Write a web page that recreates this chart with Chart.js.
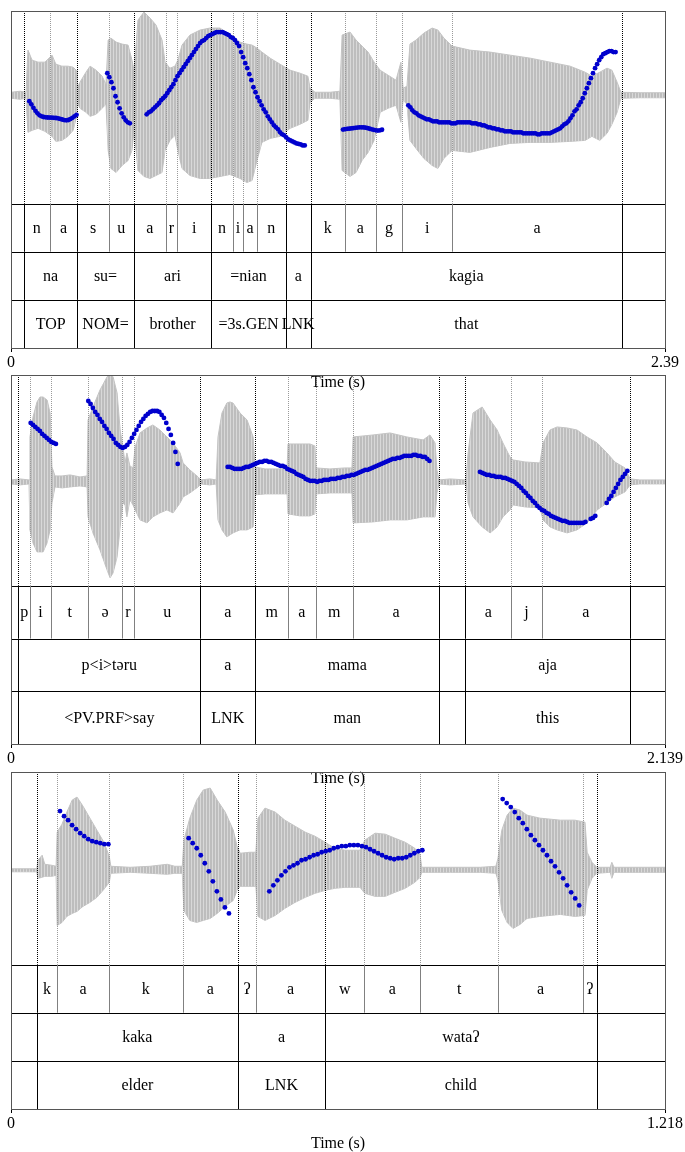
<!DOCTYPE html>
<html>
<head>
<meta charset="utf-8">
<script src="https://cdn.jsdelivr.net/npm/chart.js@4.4.1/dist/chart.umd.min.js"></script>
<style>
  html, body { margin: 0; padding: 0; background: #fff; overflow: hidden; }
  #page { position: relative; width: 685px; height: 1152px; overflow: hidden; background: #fff; }
  #page canvas { position: absolute; left: 0; }
</style>
</head>
<body>
<div id="page">
  <canvas id="panel1" width="685" height="392" style="top:0px"></canvas>
  <canvas id="panel2" width="685" height="424" style="top:364px"></canvas>
  <canvas id="panel3" width="685" height="392" style="top:761px"></canvas>
</div>
<script>
// ---------- shared ----------
const pitchStep = 0.0075; // s between F0 frames

// ---------- utterance 1: na su=ari=nian a kagia ----------
const duration1 = 2.39;
const timeTicks1 = [0, 2.39];
const tickLabels1 = ['0', '2.39'];
const ampRange1 = [-1.08, 0.84];
const hzRange1 = [100, 292];
const wave1Time = [0, 0.033, 0.055, 0.062, 0.077, 0.099, 0.124, 0.150, 0.164, 0.186,
  0.208, 0.227, 0.238, 0.241, 0.252, 0.274, 0.289, 0.311, 0.333, 0.347,
  0.355, 0.365, 0.384, 0.406, 0.428, 0.442, 0.450, 0.464, 0.486, 0.508,
  0.530, 0.552, 0.563, 0.581, 0.599, 0.610, 0.625, 0.654, 0.691, 0.727,
  0.764, 0.800, 0.837, 0.862, 0.881, 0.899, 0.917, 0.947, 0.983, 1.020,
  1.056, 1.085, 1.093, 1.111, 1.166, 1.202, 1.210, 1.239, 1.261, 1.283,
  1.305, 1.327, 1.349, 1.378, 1.407, 1.425, 1.433, 1.447, 1.458, 1.480,
  1.509, 1.539, 1.560, 1.582, 1.612, 1.677, 1.751, 1.824, 1.897, 1.970,
  2.043, 2.098, 2.123, 2.152, 2.178, 2.196, 2.215, 2.229, 2.299, 2.390];
const wave1High = [0.03, 0.04, 0.03, 0.45, 0.35, 0.33, 0.33, 0.40, 0.31, 0.29,
  0.29, 0.28, 0.25, 0.07, 0.13, 0.23, 0.29, 0.25, 0.19, 0.11,
  0.55, 0.57, 0.53, 0.51, 0.50, 0.35, 0.25, 0.75, 0.83, 0.77,
  0.70, 0.55, 0.33, 0.27, 0.29, 0.35, 0.50, 0.60, 0.65, 0.67,
  0.67, 0.60, 0.53, 0.51, 0.50, 0.47, 0.43, 0.37, 0.31, 0.25,
  0.22, 0.19, 0.07, 0.03, 0.03, 0.04, 0.60, 0.63, 0.55, 0.49,
  0.43, 0.33, 0.25, 0.20, 0.15, 0.33, 0.07, 0.09, 0.51, 0.55,
  0.62, 0.67, 0.65, 0.57, 0.49, 0.45, 0.43, 0.40, 0.37, 0.33,
  0.29, 0.23, 0.19, 0.23, 0.27, 0.25, 0.13, 0.03, 0.025, 0.025];
const wave1Low = [-0.03, -0.04, -0.03, -0.37, -0.35, -0.33, -0.36, -0.41, -0.46, -0.45,
  -0.41, -0.35, -0.23, -0.07, -0.13, -0.17, -0.21, -0.19, -0.13, -0.09,
  -0.55, -0.73, -0.77, -0.70, -0.65, -0.55, -0.35, -0.75, -0.81, -0.83,
  -0.80, -0.77, -0.55, -0.45, -0.40, -0.55, -0.73, -0.80, -0.83, -0.83,
  -0.81, -0.79, -0.83, -0.87, -0.85, -0.65, -0.47, -0.43, -0.41, -0.33,
  -0.29, -0.25, -0.07, -0.03, -0.03, -0.04, -0.75, -0.81, -0.77, -0.65,
  -0.57, -0.45, -0.17, -0.13, -0.10, -0.27, -0.05, -0.09, -0.45, -0.53,
  -0.63, -0.70, -0.73, -0.63, -0.55, -0.57, -0.52, -0.48, -0.47, -0.47,
  -0.46, -0.45, -0.41, -0.45, -0.38, -0.29, -0.17, -0.03, -0.025, -0.025];
const pitch1Starts = [0.0669, 0.3519, 0.4959, 1.2133, 1.4519];
const pitch1Hz = [
  [202, 199, 195.5, 192.5, 190, 188, 187, 186.3, 186, 185.8, 185.7, 185.6, 185.5, 185.3, 185, 184.4, 183.8, 183.2, 183, 183.3, 184.2, 185.5, 187, 188.5],
  [230, 226, 221, 215, 207, 201, 195, 190, 186, 183, 181, 180],
  [189, 191, 192, 194, 196, 198, 200, 203, 205, 207, 210, 213, 216, 219, 223, 227, 230, 233, 236, 239,
   242, 245, 248, 251, 254, 257, 260, 262, 263, 265, 267, 268, 269, 270, 271, 271, 271, 271, 270, 269,
   268, 266, 265, 263, 260, 257, 251, 246, 240, 235, 229, 223, 216, 211, 206, 202, 198, 194, 191, 187,
   184, 181, 178, 176, 174, 171, 169, 168, 166, 164, 163, 162, 161, 160, 159.5, 159, 158, 158],
  [173.8, 174.2, 174.5, 174.7, 174.9, 175.2, 175.5, 175.8, 176, 176, 175.9, 175.7, 175.2, 174.6, 174, 173.5, 173, 172.8, 173, 173.6],
  [198, 196, 193, 191, 190, 188, 187, 186, 185, 184, 184, 183, 182, 182, 182, 181, 181, 181, 181, 181,
   181, 180, 180, 180, 181, 181, 181, 181, 181, 181, 181, 180, 180, 180, 179, 179, 178, 178, 177, 176,
   176, 175, 175, 174, 174, 173, 173, 172, 172, 172, 172, 171, 171, 171, 171, 171, 170, 170, 170, 170,
   170, 170, 170, 169, 169, 170, 170, 170, 170, 170, 171, 172, 173, 174, 175, 177, 179, 180, 182, 185,
   188, 192, 194, 198, 201, 205, 210, 215, 220, 225, 230, 235, 239, 243, 246, 249, 250, 251, 252, 252,
   251, 251]
];
const phoneBounds1 = [0, 0.0475, 0.1414, 0.2423, 0.3570, 0.4484, 0.5653, 0.6077, 0.7320, 0.8102, 0.8489, 0.8990, 1.0039, 1.0952, 1.2206, 1.3328, 1.4300, 1.6127, 2.2328, 2.39];
const phones1 = ['', 'n', 'a', 's', 'u', 'a', 'r', 'i', 'n', 'i', 'a', 'n', '', 'k', 'a', 'g', 'i', 'a', ''];
const wordBounds1 = [0, 0.0475, 0.2423, 0.4484, 0.7320, 1.0039, 1.0952, 2.2328, 2.39];
const words1 = ['', 'na', 'su=', 'ari', '=nian', 'a', 'kagia', ''];
const glosses1 = ['', 'TOP', 'NOM=', 'brother', '=3s.GEN', 'LNK', 'that', ''];

// ---------- utterance 2: p<i>təru a mama aja ----------
const duration2 = 2.139;
const timeTicks2 = [0, 2.139];
const tickLabels2 = ['0', '2.139'];
const ampRange2 = [-1.04, 1.07];
const hzRange2 = [100, 311];
const wave2Time = [0, 0.029, 0.059, 0.062, 0.072, 0.085, 0.095, 0.105, 0.118, 0.128,
  0.134, 0.144, 0.167, 0.193, 0.226, 0.249, 0.252, 0.268, 0.291, 0.314,
  0.324, 0.334, 0.347, 0.357, 0.366, 0.373, 0.379, 0.389, 0.399, 0.406,
  0.422, 0.445, 0.464, 0.487, 0.510, 0.530, 0.553, 0.563, 0.585, 0.612,
  0.621, 0.651, 0.671, 0.677, 0.690, 0.706, 0.716, 0.726, 0.749, 0.772,
  0.792, 0.798, 0.831, 0.880, 0.903, 0.906, 0.945, 0.978, 0.994, 0.998,
  1.043, 1.092, 1.115, 1.119, 1.184, 1.240, 1.295, 1.348, 1.370, 1.387,
  1.393, 1.400, 1.436, 1.488, 1.495, 1.511, 1.541, 1.567, 1.590, 1.609,
  1.632, 1.642, 1.681, 1.730, 1.740, 1.763, 1.786, 1.819, 1.851, 1.884,
  1.917, 1.949, 1.975, 2.008, 2.025, 2.057, 2.139];
const wave2High = [0.02, 0.03, 0.02, 0.45, 0.65, 0.80, 0.85, 0.85, 0.82, 0.69,
  0.15, 0.06, 0.06, 0.07, 0.05, 0.06, 0.62, 0.75, 0.92, 1.05,
  1.09, 1.05, 0.89, 0.52, 0.35, 0.19, 0.29, 0.16, 0.14, 0.35,
  0.49, 0.54, 0.57, 0.52, 0.45, 0.39, 0.29, 0.19, 0.12, 0.05,
  0.02, 0.03, 0.02, 0.45, 0.69, 0.79, 0.80, 0.79, 0.69, 0.62,
  0.45, 0.15, 0.13, 0.13, 0.14, 0.38, 0.38, 0.38, 0.36, 0.14,
  0.13, 0.14, 0.14, 0.45, 0.47, 0.49, 0.45, 0.42, 0.47, 0.39,
  0.12, 0.02, 0.03, 0.02, 0.29, 0.69, 0.75, 0.62, 0.52, 0.39,
  0.25, 0.22, 0.20, 0.19, 0.39, 0.52, 0.55, 0.54, 0.52, 0.45,
  0.39, 0.29, 0.20, 0.14, 0.03, 0.02, 0.02];
const wave2Low = [-0.02, -0.03, -0.02, -0.48, -0.61, -0.70, -0.70, -0.70, -0.61, -0.48,
  -0.21, -0.05, -0.06, -0.05, -0.04, -0.05, -0.35, -0.51, -0.68, -0.88,
  -0.96, -0.91, -0.75, -0.45, -0.21, -0.23, -0.35, -0.18, -0.23, -0.28,
  -0.38, -0.41, -0.35, -0.31, -0.28, -0.31, -0.21, -0.15, -0.11, -0.05,
  -0.02, -0.03, -0.02, -0.38, -0.48, -0.55, -0.53, -0.51, -0.48, -0.48,
  -0.45, -0.13, -0.12, -0.12, -0.12, -0.32, -0.34, -0.34, -0.32, -0.12,
  -0.11, -0.11, -0.11, -0.41, -0.40, -0.38, -0.38, -0.35, -0.35, -0.35,
  -0.11, -0.02, -0.03, -0.02, -0.21, -0.35, -0.45, -0.51, -0.45, -0.35,
  -0.28, -0.23, -0.25, -0.26, -0.38, -0.45, -0.48, -0.51, -0.48, -0.41,
  -0.28, -0.21, -0.15, -0.10, -0.03, -0.02, -0.02];
const pitch2Starts = [0.0644, 0.2528, 0.7087, 1.5339, 1.8960, 1.9483];
const pitch2Hz = [
  [263, 261, 259, 257, 255, 252, 250, 248, 246, 244, 243, 242],
  [285, 282, 278, 274, 271, 267, 264, 260, 257, 253, 250, 247, 243, 241, 239, 238, 239, 241, 244, 248,
   252, 256, 260, 264, 267, 270, 272, 274, 275, 275, 275, 274, 271, 268, 263, 257, 251, 243, 234, 222],
  [219, 219, 218, 217, 217, 217, 217, 218, 219, 219, 220, 221, 222, 223, 224, 224, 225, 225, 224, 224,
   223, 222, 221, 220, 220, 219, 217, 216, 215, 214, 212, 211, 210, 209, 207, 206, 205, 205, 205, 204,
   205, 205, 206, 206, 206, 207, 207, 207, 208, 208, 209, 209, 210, 210, 211, 211, 212, 213, 214, 215,
   216, 216, 217, 218, 219, 220, 221, 222, 223, 224, 225, 226, 227, 227, 228, 228, 229, 230, 230, 230,
   230, 231, 231, 230, 230, 229, 229, 227, 225],
  [214, 213, 212, 211, 211, 210, 210, 209, 209, 209, 208, 208, 207, 206, 205, 204, 202, 200, 198, 195,
   193, 190, 188, 185, 183, 180, 178, 176, 175, 173, 172, 170, 169, 168, 167, 166, 165, 165, 164, 163,
   163, 163, 163, 163, 163, 163, 164],
  [167, 168, 170],
  [183, 187, 190, 194, 198, 202, 206, 209, 212, 215]
];
const phoneBounds2 = [0, 0.0239, 0.0621, 0.1308, 0.2528, 0.3621, 0.4023, 0.6191, 0.7990, 0.9060, 0.9966, 1.1176, 1.4008, 1.4858, 1.6363, 1.7357, 2.0245, 2.139];
const phones2 = ['', 'p', 'i', 't', 'ə', 'r', 'u', 'a', 'm', 'a', 'm', 'a', '', 'a', 'j', 'a', ''];
const wordBounds2 = [0, 0.0239, 0.6191, 0.7990, 1.4008, 1.4858, 2.0245, 2.139];
const words2 = ['', 'p<i>təru', 'a', 'mama', '', 'aja', ''];
const glosses2 = ['', '<PV.PRF>say', 'LNK', 'man', '', 'this', ''];

// ---------- utterance 3: kaka a wataʔ ----------
const duration3 = 1.218;
const timeTicks3 = [0, 1.218];
const tickLabels3 = ['0', '1.218'];
const ampRange3 = [-0.94, 0.98];
const hzRange3 = [100, 292];
const wave3Time = [0, 0.048, 0.050, 0.058, 0.063, 0.076, 0.084, 0.086, 0.095, 0.104,
  0.114, 0.123, 0.134, 0.147, 0.160, 0.173, 0.183, 0.186, 0.222, 0.259,
  0.291, 0.305, 0.319, 0.322, 0.333, 0.346, 0.358, 0.371, 0.384, 0.399,
  0.414, 0.421, 0.427, 0.445, 0.456, 0.460, 0.473, 0.492, 0.510, 0.529,
  0.548, 0.566, 0.585, 0.603, 0.622, 0.650, 0.659, 0.678, 0.697, 0.715,
  0.734, 0.752, 0.762, 0.765, 0.818, 0.874, 0.903, 0.907, 0.914, 0.924,
  0.935, 0.948, 0.961, 0.985, 1.023, 1.050, 1.069, 1.073, 1.082, 1.091,
  1.116, 1.119, 1.123, 1.218];
const wave3High = [0.015, 0.015, 0.10, 0.15, 0.06, 0.05, 0.04, 0.38, 0.46, 0.58,
  0.70, 0.73, 0.64, 0.52, 0.40, 0.28, 0.14, 0.04, 0.03, 0.04,
  0.06, 0.04, 0.04, 0.30, 0.52, 0.70, 0.80, 0.82, 0.70, 0.58,
  0.40, 0.24, 0.17, 0.18, 0.18, 0.52, 0.62, 0.58, 0.50, 0.44,
  0.38, 0.34, 0.28, 0.22, 0.20, 0.20, 0.30, 0.37, 0.36, 0.32,
  0.28, 0.22, 0.15, 0.03, 0.03, 0.03, 0.04, 0.12, 0.40, 0.55,
  0.62, 0.60, 0.55, 0.52, 0.50, 0.50, 0.48, 0.18, 0.08, 0.03,
  0.03, 0.08, 0.03, 0.03];
const wave3Low = [-0.015, -0.015, -0.08, -0.07, -0.06, -0.06, -0.05, -0.55, -0.52, -0.46,
  -0.43, -0.41, -0.36, -0.32, -0.27, -0.19, -0.12, -0.03, -0.02, -0.03,
  -0.04, -0.03, -0.03, -0.40, -0.50, -0.52, -0.50, -0.48, -0.43, -0.36,
  -0.30, -0.20, -0.16, -0.16, -0.16, -0.46, -0.50, -0.45, -0.38, -0.32,
  -0.27, -0.23, -0.20, -0.18, -0.17, -0.17, -0.23, -0.26, -0.26, -0.22,
  -0.18, -0.12, -0.07, -0.02, -0.02, -0.02, -0.03, -0.10, -0.40, -0.52,
  -0.58, -0.54, -0.48, -0.46, -0.44, -0.46, -0.45, -0.20, -0.08, -0.03,
  -0.02, -0.08, -0.02, -0.02];
const pitch3Starts = [0.0913, 0.3309, 0.4811, 0.9157];
const pitch3Hz = [
  [253, 248, 244, 239, 235, 231, 228, 225, 223, 222, 221, 220, 220],
  [226, 221, 216, 209, 201, 193, 183, 173, 165, 157, 151],
  [173, 179, 184, 189, 193, 197, 199, 201, 204, 205, 207, 209, 210, 212, 213, 214, 216, 217, 218, 218,
   219, 219, 219, 218, 217, 215, 213, 211, 209, 207, 206, 205, 206, 206, 207, 209, 211, 213, 214],
  [265, 261, 257, 252, 246, 241, 235, 229, 224, 219, 214, 209, 203, 198, 192, 186, 179, 172, 166, 159]
];
const phoneBounds3 = [0, 0.0479, 0.0862, 0.1820, 0.3198, 0.4228, 0.4568, 0.5848, 0.6580, 0.7623, 0.9075, 1.0647, 1.0908, 1.218];
const phones3 = ['', 'k', 'a', 'k', 'a', 'ʔ', 'a', 'w', 'a', 't', 'a', 'ʔ', ''];
const wordBounds3 = [0, 0.0479, 0.4228, 0.5848, 1.0908, 1.218];
const words3 = ['', 'kaka', 'a', 'wataʔ', ''];
const glosses3 = ['', 'elder', 'LNK', 'child', ''];

// ---------- drawing ----------
const SERIF = "'Liberation Serif', 'Times New Roman', serif";
Chart.defaults.font.family = SERIF;
Chart.defaults.font.size = 16;
Chart.defaults.color = '#000';

const crisp = v => Math.round(v) + 0.5;

// Fine vertical striping so the filled sound envelope reads like sample lines.
function sampleLinePattern() {
  const c = document.createElement('canvas');
  c.width = 3; c.height = 1;
  const g = c.getContext('2d');
  g.fillStyle = '#bdbdbd'; g.fillRect(0, 0, 3, 1);
  g.fillStyle = '#d8d8d8'; g.fillRect(2, 0, 1, 1);
  return g.createPattern(c, 'repeat');
}
const soundFill = sampleLinePattern();

// Dotted boundary lines over the sound, then interval tiers and the frame.
const tierPlugin = {
  id: 'praatTiers',
  afterDatasetDraw(chart, args, opts) {
    if (args.index !== 1) return;            // right after the waveform, before F0
    const {ctx} = chart;
    const xs = chart.scales.x, amp = chart.scales.amp;
    ctx.save();
    ctx.lineWidth = 1;
    ctx.setLineDash([1, 1]);
    opts.tiers[0].bounds.slice(1, -1).forEach(t => {
      const px = crisp(xs.getPixelForValue(t));
      ctx.strokeStyle = opts.wordBounds.includes(t) ? '#000' : '#9a9a9a';
      ctx.beginPath();
      ctx.moveTo(px, amp.top);
      ctx.lineTo(px, amp.bottom);
      ctx.stroke();
    });
    ctx.restore();
  },
  afterDraw(chart, args, opts) {
    const {ctx, chartArea: a} = chart;
    const xs = chart.scales.x, tier = chart.scales.tier;
    ctx.save();
    ctx.lineWidth = 1;
    opts.tiers.forEach((tr, r) => {
      const y0 = tier.getPixelForValue(r), y1 = tier.getPixelForValue(r + 1);
      ctx.strokeStyle = '#000';
      ctx.beginPath();
      ctx.moveTo(a.left, crisp(y0));
      ctx.lineTo(a.right, crisp(y0));
      ctx.stroke();
      tr.bounds.slice(1, -1).forEach(t => {
        const px = crisp(xs.getPixelForValue(t));
        ctx.strokeStyle = opts.wordBounds.includes(t) ? '#000' : '#808080';
        ctx.beginPath();
        ctx.moveTo(px, y0);
        ctx.lineTo(px, y1);
        ctx.stroke();
      });
      ctx.fillStyle = '#000';
      ctx.font = '16px ' + SERIF;
      ctx.textAlign = 'center';
      ctx.textBaseline = 'middle';
      tr.labels.forEach((lab, i) => {
        if (!lab) return;
        const cx = (xs.getPixelForValue(tr.bounds[i]) + xs.getPixelForValue(tr.bounds[i + 1])) / 2;
        ctx.fillText(lab, cx, (y0 + y1) / 2 + 1);
      });
    });
    ctx.strokeStyle = '#555';
    ctx.strokeRect(crisp(a.left), crisp(a.top), Math.round(a.right - a.left), Math.round(a.bottom - a.top));
    ctx.restore();
  }
};

function buildPanel(id, p) {
  const pts = (xs, ys) => xs.map((x, i) => ({x, y: ys[i]}));
  const f0 = [];
  p.pitchStarts.forEach((t0, s) => p.pitchHz[s].forEach((hz, i) => f0.push({x: t0 + i * pitchStep, y: hz})));
  const tiers = [
    {bounds: p.phoneBounds, labels: p.phones},
    {bounds: p.wordBounds, labels: p.words},
    {bounds: p.wordBounds, labels: p.glosses}
  ];
  return new Chart(document.getElementById(id), {
    type: 'line',
    data: {
      datasets: [
        { label: 'F0', data: f0, yAxisID: 'hz', order: 0, showLine: false,
          pointRadius: 2.4, pointHoverRadius: 0, pointBorderWidth: 0,
          pointBackgroundColor: '#0000cd', backgroundColor: '#0000cd' },
        { label: 'sound max', data: pts(p.waveTime, p.waveHigh), yAxisID: 'amp', order: 1,
          borderColor: '#c4c4c4', borderWidth: 1, backgroundColor: soundFill,
          fill: '+1', pointRadius: 0, tension: 0 },
        { label: 'sound min', data: pts(p.waveTime, p.waveLow), yAxisID: 'amp', order: 1,
          borderColor: '#c4c4c4', borderWidth: 1, fill: false, pointRadius: 0, tension: 0 }
      ]
    },
    options: {
      responsive: false,
      animation: false,
      events: [],
      layout: { padding: { left: 11, right: 20, top: 11, bottom: 0 } },
      plugins: {
        legend: { display: false },
        tooltip: { enabled: false },
        praatTiers: { tiers, wordBounds: p.wordBounds }
      },
      scales: {
        x: {
          type: 'linear', position: 'bottom', bounds: 'data', min: 0, max: p.duration,
          afterBuildTicks: s => { s.ticks = p.timeTicks.map(v => ({value: v})); },
          afterFit: s => { s.height = 44; },
          grid: { drawOnChartArea: false, tickLength: 4, color: '#000', lineWidth: 1 },
          border: { display: false },
          ticks: { autoSkip: false, maxRotation: 0, padding: 1, color: '#000',
                   callback: (v, i) => p.tickLabels[i] },
          title: { display: true, text: 'Time (s)', padding: 0, color: '#000' }
        },
        amp: { type: 'linear', position: 'right', stack: 'sound', stackWeight: 4, bounds: 'data',
               min: p.ampRange[0], max: p.ampRange[1], display: false },
        tier: { type: 'linear', position: 'right', stack: 'sound', stackWeight: 3, bounds: 'data',
                min: 0, max: 3, reverse: true, display: false },
        hz: { type: 'linear', position: 'right', stack: 'pitch', stackWeight: 4, bounds: 'data',
              min: p.hzRange[0], max: p.hzRange[1], display: false },
        hzFloor: { type: 'linear', position: 'right', stack: 'pitch', stackWeight: 3, bounds: 'data',
                   min: 0, max: 1, display: false }
      }
    },
    plugins: [tierPlugin]
  });
}

buildPanel('panel1', {
  duration: duration1, timeTicks: timeTicks1, tickLabels: tickLabels1, ampRange: ampRange1, hzRange: hzRange1,
  waveTime: wave1Time, waveHigh: wave1High, waveLow: wave1Low,
  pitchStarts: pitch1Starts, pitchHz: pitch1Hz,
  phoneBounds: phoneBounds1, phones: phones1, wordBounds: wordBounds1, words: words1, glosses: glosses1
});
buildPanel('panel2', {
  duration: duration2, timeTicks: timeTicks2, tickLabels: tickLabels2, ampRange: ampRange2, hzRange: hzRange2,
  waveTime: wave2Time, waveHigh: wave2High, waveLow: wave2Low,
  pitchStarts: pitch2Starts, pitchHz: pitch2Hz,
  phoneBounds: phoneBounds2, phones: phones2, wordBounds: wordBounds2, words: words2, glosses: glosses2
});
buildPanel('panel3', {
  duration: duration3, timeTicks: timeTicks3, tickLabels: tickLabels3, ampRange: ampRange3, hzRange: hzRange3,
  waveTime: wave3Time, waveHigh: wave3High, waveLow: wave3Low,
  pitchStarts: pitch3Starts, pitchHz: pitch3Hz,
  phoneBounds: phoneBounds3, phones: phones3, wordBounds: wordBounds3, words: words3, glosses: glosses3
});
</script>
</body>
</html>
